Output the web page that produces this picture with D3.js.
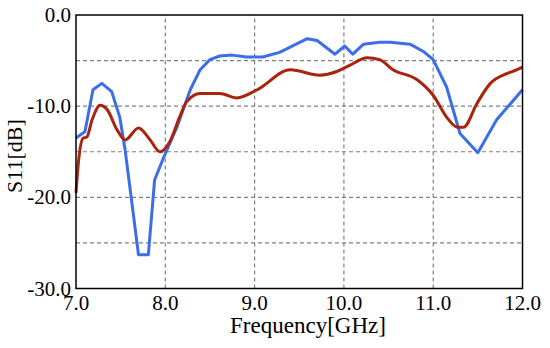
<!DOCTYPE html>
<html>
<head>
<meta charset="utf-8">
<script src="https://cdn.jsdelivr.net/npm/d3@7"></script>
<style>
  body { margin: 0; background: #fff; }
</style>
</head>
<body>
<div id="chart"></div>
<script>
// size of the plot
var margin = {top: 15, right: 27.5, bottom: 59.5, left: 76},
    width = 550,
    height = 348;
var serif = "'Liberation Serif'";

// tick values
var xTicks = [7, 8, 9, 10, 11, 12];
var yTicks = [0, -10, -20, -30];
var yGrid = [-5, -10, -15, -20, -25];
var xGrid = [8, 9, 10, 11];

// blue curve (frequency in GHz, S11 in dB)
var blueFreq = [7.0, 7.1, 7.19, 7.29, 7.4, 7.49, 7.55, 7.7, 7.81, 7.88, 7.97, 8.13, 8.2, 8.28, 8.39, 8.5, 8.61, 8.75, 8.91, 9.09, 9.28, 9.59, 9.7, 9.9, 10.01, 10.1, 10.22, 10.4, 10.52, 10.74, 10.89, 11.0, 11.15, 11.3, 11.5, 11.71, 12.0];
var blueS11 = [-13.5, -12.8, -8.2, -7.5, -8.4, -11.2, -14.8, -26.3, -26.3, -18.1, -15.9, -12.3, -10.4, -8.2, -6.0, -4.9, -4.5, -4.4, -4.6, -4.6, -4.1, -2.6, -2.8, -4.3, -3.4, -4.3, -3.2, -3.0, -3.0, -3.2, -4.0, -4.9, -7.9, -13.0, -15.1, -11.5, -8.2];

// red curve
var redFreq = [7.0, 7.03, 7.08, 7.12, 7.18, 7.27, 7.35, 7.46, 7.55, 7.7, 7.83, 7.94, 8.05, 8.16, 8.24, 8.39, 8.61, 8.8, 9.03, 9.4, 9.73, 9.92, 10.07, 10.26, 10.4, 10.55, 10.82, 11.0, 11.15, 11.27, 11.34, 11.49, 11.64, 11.83, 11.94, 12.0];
var redS11 = [-19.5, -15.9, -13.5, -13.4, -11.5, -9.9, -10.4, -12.6, -13.7, -12.4, -13.7, -15.0, -13.9, -11.2, -9.5, -8.6, -8.6, -9.1, -8.2, -6.0, -6.6, -6.2, -5.5, -4.7, -4.9, -6.0, -7.1, -8.8, -11.2, -12.3, -12.3, -9.7, -7.5, -6.4, -6.0, -5.7];

var svg = d3.select("#chart").append("svg")
    .attr("width", width)
    .attr("height", height);

var x = d3.scaleLinear()
    .domain([7, 12])
    .range([margin.left, width - margin.right]);

var y = d3.scaleLinear()
    .domain([-30, 0])
    .range([height - margin.bottom, margin.top]);

// dashed grid
svg.append("g").selectAll("line")
    .data(yGrid)
    .enter().append("line")
    .attr("x1", x(7)).attr("x2", x(12))
    .attr("y1", function (d) { return y(d); })
    .attr("y2", function (d) { return y(d); })
    .attr("stroke", "#808080")
    .attr("stroke-width", 1.2)
    .attr("stroke-dasharray", "4,3");

svg.append("g").selectAll("line")
    .data(xGrid)
    .enter().append("line")
    .attr("y1", y(-30)).attr("y2", y(0))
    .attr("x1", function (d) { return x(d); })
    .attr("x2", function (d) { return x(d); })
    .attr("stroke", "#808080")
    .attr("stroke-width", 1.2)
    .attr("stroke-dasharray", "4,3");

// curves
var blueLine = d3.line()
    .x(function (d, i) { return x(blueFreq[i]); })
    .y(function (d) { return y(d); });

var redLine = d3.line()
    .curve(d3.curveMonotoneX)
    .x(function (d, i) { return x(redFreq[i]); })
    .y(function (d) { return y(d); });

svg.append("path")
    .datum(blueS11)
    .attr("d", blueLine)
    .attr("fill", "none")
    .attr("stroke", "#3b6ee8")
    .attr("stroke-width", 3)
    .attr("stroke-linejoin", "round");

svg.append("path")
    .datum(redS11)
    .attr("d", redLine)
    .attr("fill", "none")
    .attr("stroke", "#a9230d")
    .attr("stroke-width", 3)
    .attr("stroke-linejoin", "round");

// frame
svg.append("rect")
    .attr("x", x(7)).attr("y", y(0))
    .attr("width", x(12) - x(7))
    .attr("height", y(-30) - y(0))
    .attr("fill", "none")
    .attr("stroke", "#000")
    .attr("stroke-width", 1.5);

// tick labels
svg.append("g").selectAll("text")
    .data(xTicks)
    .enter().append("text")
    .attr("x", function (d) { return x(d); })
    .attr("y", 310)
    .attr("text-anchor", "middle")
    .style("font-family", serif)
    .style("font-size", "21px")
    .text(function (d) { return d.toFixed(1); });

svg.append("g").selectAll("text")
    .data(yTicks)
    .enter().append("text")
    .attr("x", 71)
    .attr("y", function (d) { return y(d) + 7; })
    .attr("text-anchor", "end")
    .style("font-family", serif)
    .style("font-size", "21px")
    .text(function (d) { return d.toFixed(1); });

// axis titles
svg.append("text")
    .attr("x", 308)
    .attr("y", 333)
    .attr("text-anchor", "middle")
    .style("font-family", serif)
    .style("font-size", "23px")
    .text("Frequency[GHz]");

svg.append("text")
    .attr("transform", "translate(22,156) rotate(-90)")
    .attr("text-anchor", "middle")
    .style("font-family", serif)
    .style("font-size", "22px")
    .text("S11[dB]");
</script>
</body>
</html>
